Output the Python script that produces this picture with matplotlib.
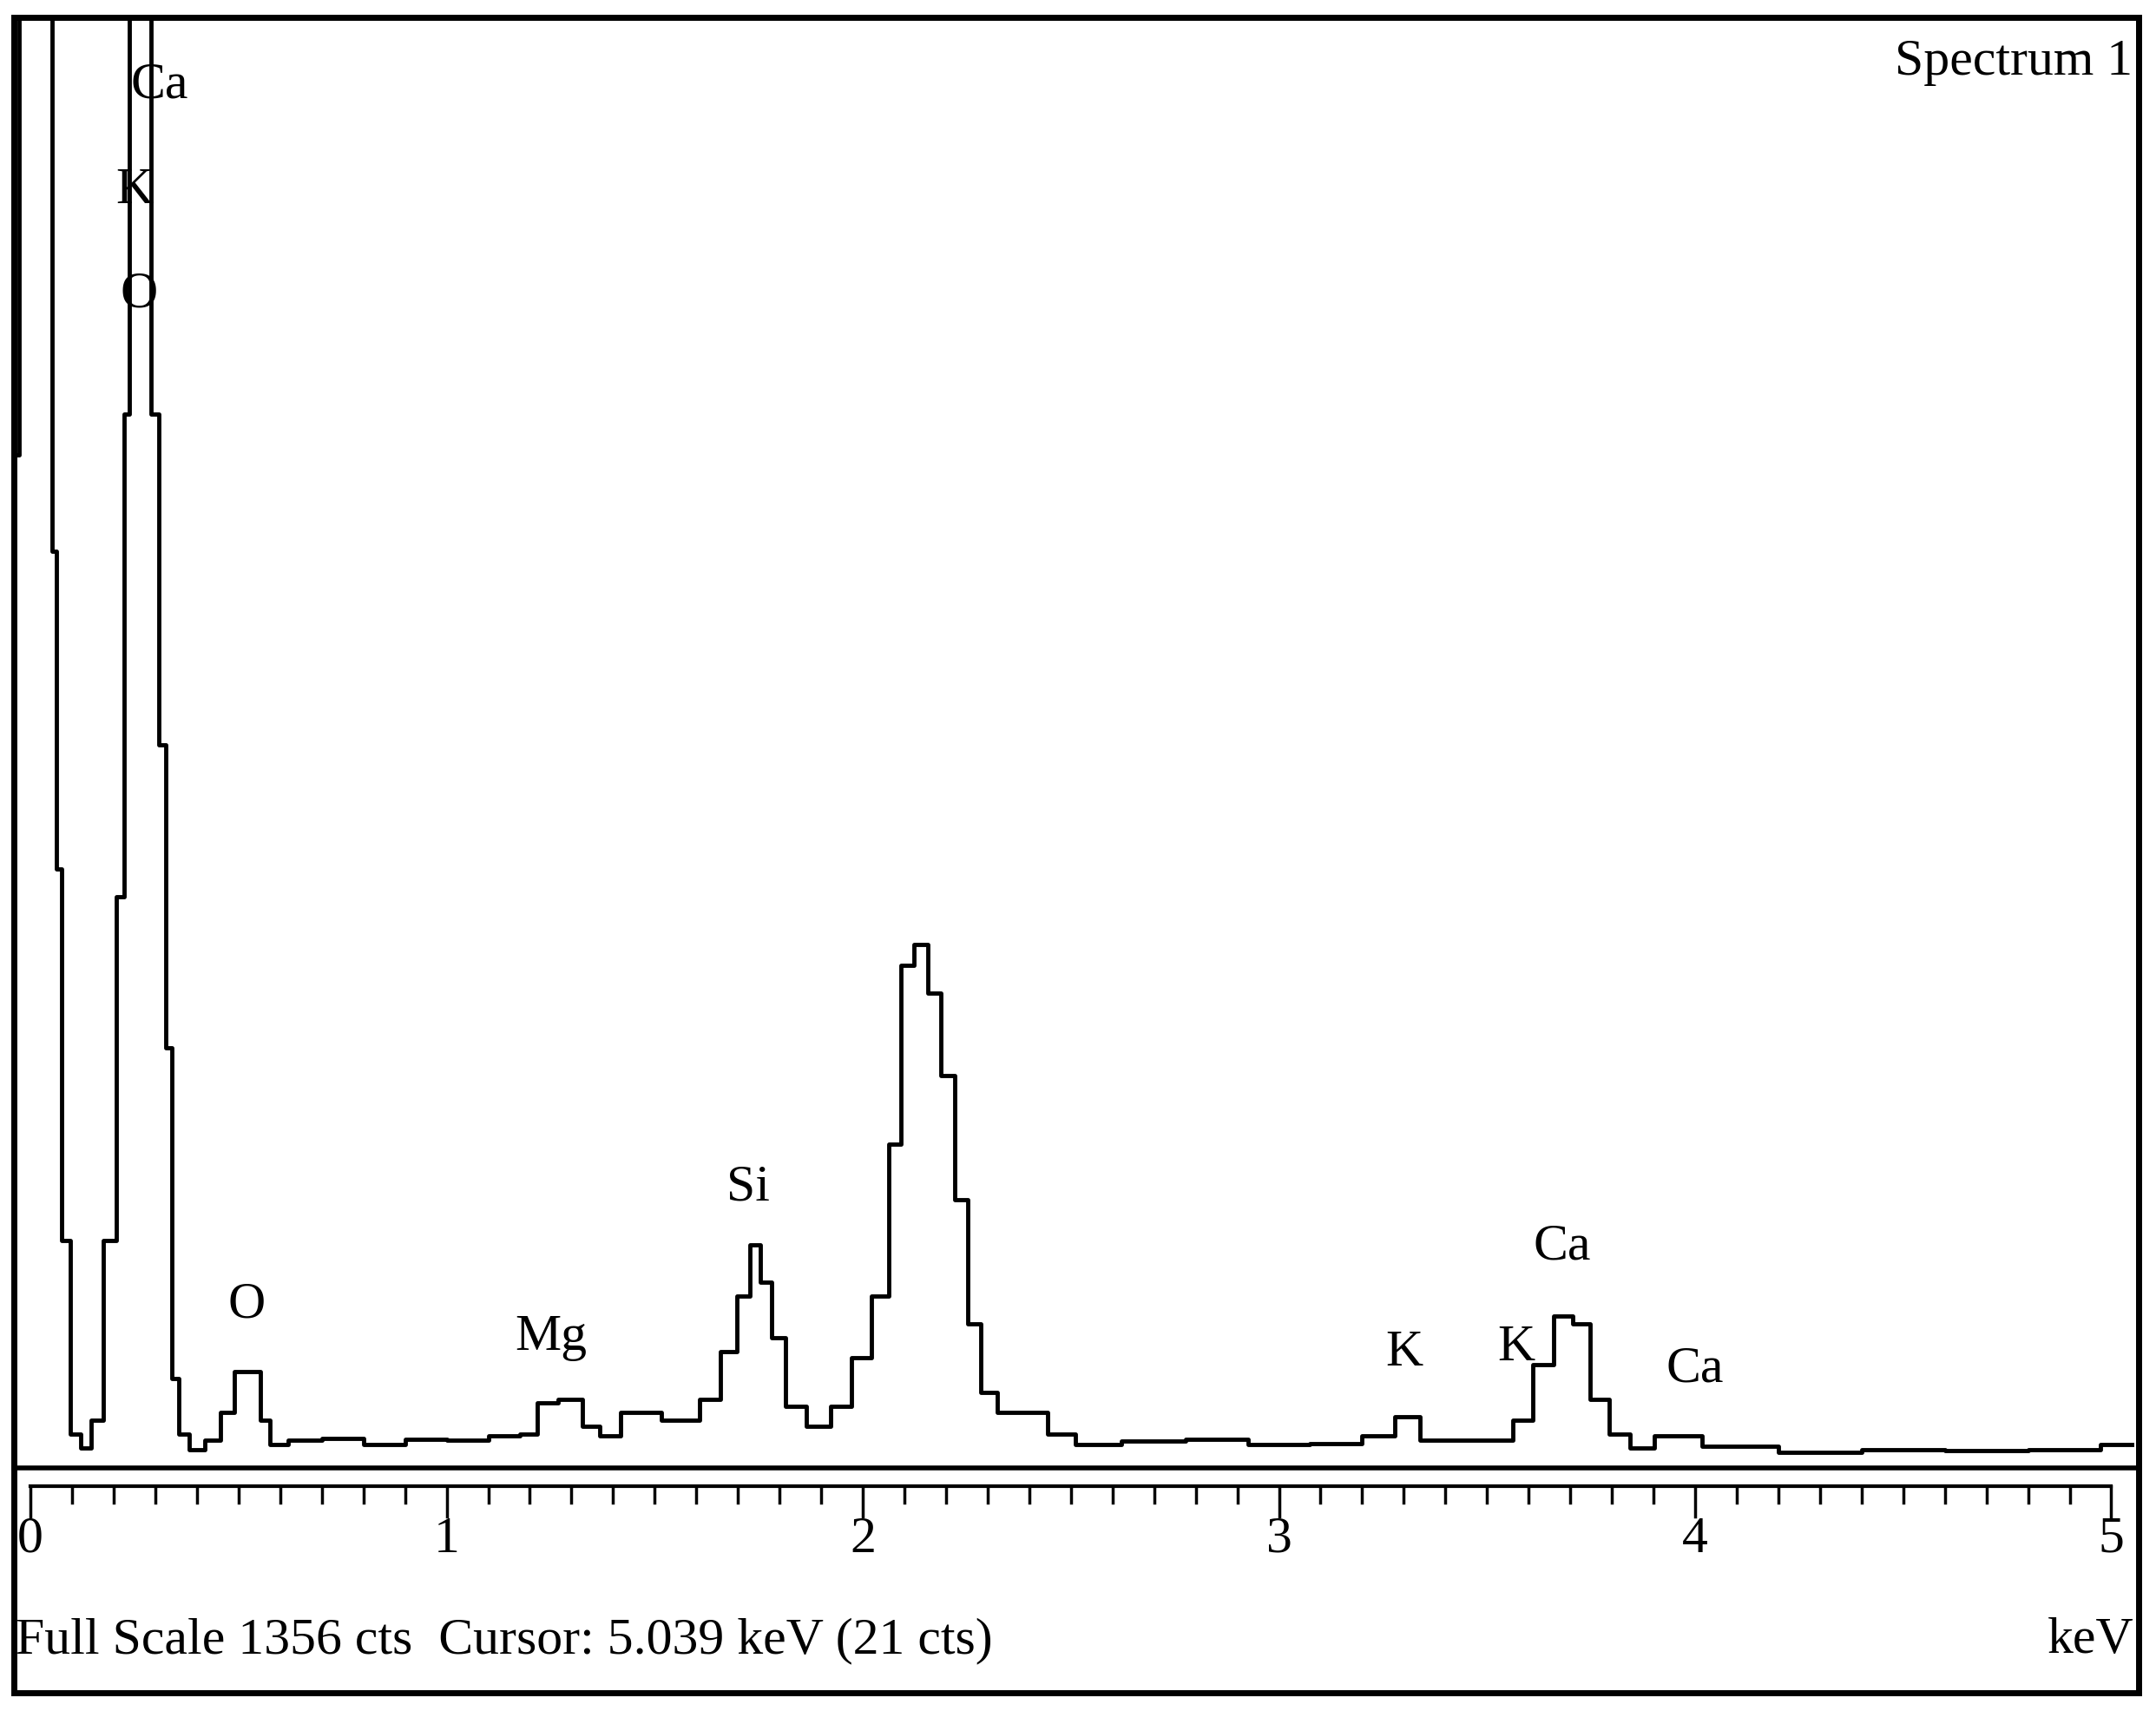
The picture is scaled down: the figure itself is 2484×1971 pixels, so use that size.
import matplotlib.pyplot as plt
import numpy as np

# EDS spectrum (keV, counts); >1356 means off-scale
energy = [-0.033, -0.02, 0.043, 0.060, 0.066, 0.083, 0.109, 0.132, 0.159, 0.192, 0.219, 0.232,
          0.245, 0.281, 0.298, 0.318, 0.331, 0.348, 0.364, 0.397, 0.440, 0.474, 0.507, 0.540,
          0.563, 0.589, 0.65, 0.75, 0.85, 0.95, 1.05, 1.15, 1.202, 1.235, 1.301, 1.351, 1.384,
          1.450, 1.583, 1.632, 1.682, 1.715, 1.742, 1.765, 1.798, 1.831, 1.897, 1.947, 1.997,
          2.046, 2.079, 2.106, 2.139, 2.172, 2.205, 2.235, 2.268, 2.301, 2.344, 2.411, 2.477,
          2.543, 2.7, 2.85, 3.0, 3.15, 3.25, 3.305, 3.371, 3.536, 3.586, 3.636, 3.685, 3.728,
          3.768, 3.818, 3.868, 3.934, 4.1, 4.3, 4.5, 4.7, 4.9, 5.05]
counts = [947, 1500, 1500, 857, 560, 213, 32, 19, 45, 213, 534, 985,
          1500, 1500, 985, 676, 393, 84, 32, 17, 26, 52, 90, 90,
          45, 22, 26, 28, 22, 27, 26, 30, 32, 61, 64, 39, 30,
          52, 45, 64, 109, 161, 209, 174, 122, 58, 39, 58, 103,
          161, 303, 470, 489, 444, 367, 251, 135, 71, 52, 52, 32,
          22, 25, 27, 22, 23, 30, 48, 26, 26, 45, 97, 142, 135,
          64, 32, 19, 30, 20, 15, 17, 16, 17, 22]

# peak labels: text, keV, counts
peak_labels = ["Ca", "K", "O", "O", "Mg", "Si", "K", "K", "Ca", "Ca"]
peak_x = [0.31, 0.25, 0.26, 0.52, 1.25, 1.725, 3.30, 3.57, 3.68, 4.0]
peak_y = [1270, 1172, 1075, 130, 100, 240, 85, 90, 185, 70]

full_scale = 1356
xlo, xhi = -0.04, 5.066
serif = "Liberation Serif"

fig = plt.figure(figsize=(24.84, 19.71), dpi=100)
ax = fig.add_axes([0.0064, 0.142, 0.9856, 0.848])
ax.plot(energy, counts, color="black", lw=3.5, drawstyle="steps-mid")
ax.set_xlim(xlo, xhi)
ax.set_ylim(0, full_scale)
ax.set_xticks([])
ax.set_yticks([])
for s in ax.spines.values():
    s.set_linewidth(4)
for t, x, y in zip(peak_labels, peak_x, peak_y):
    ax.text(x, y, t, ha="center", va="bottom", fontsize=43, family=serif)
ax.text(0.997, 0.985, "Spectrum 1", transform=ax.transAxes, ha="right", va="top",
        fontsize=43, family=serif)

# energy ruler below the spectrum
rx = fig.add_axes([0.0064, 0.0105, 0.9856, 0.1315])
rx.set_xlim(xlo, xhi)
rx.set_ylim(1228, 1065)
rx.axis("off")
rx.plot([0, 5], [1078, 1078], color="black", lw=3)
for k in range(51):
    e = k / 10
    rx.plot([e, e], [1078, 1100 if k % 10 == 0 else 1090], color="black", lw=2.5)
for k in range(6):
    rx.text(k, 1100, str(k), ha="center", va="top", fontsize=43, family=serif)
rx.text(-0.035, 1190, "Full Scale %d cts  Cursor: 5.039 keV (21 cts)" % full_scale,
        ha="left", va="center", fontsize=43, family=serif)
rx.text(5.055, 1190, "keV", ha="right", va="center", fontsize=43, family=serif)

# outer frame
fig.add_artist(plt.Rectangle((0.0064, 0.0105), 0.9856, 0.9795, transform=fig.transFigure,
                             fill=False, lw=5, color="black"))
fig.savefig("out.png")
